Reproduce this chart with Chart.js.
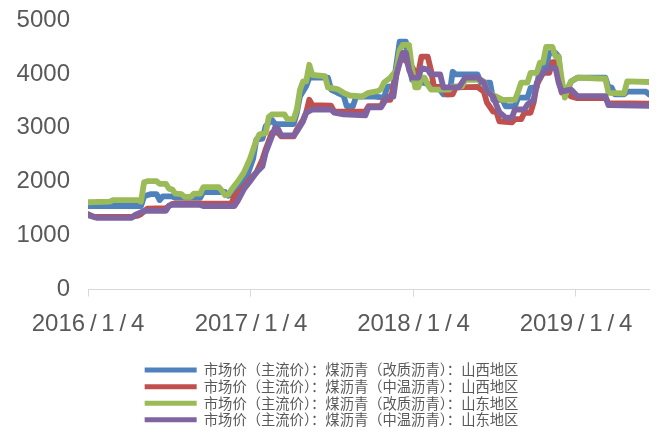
<!DOCTYPE html>
<html>
<head>
<meta charset="utf-8">
<script src="https://cdn.jsdelivr.net/npm/chart.js@4.4.1/dist/chart.umd.min.js"></script>
<style>
  html, body { margin: 0; padding: 0; background: #fff; }
  #wrap { width: 656px; height: 430px; }
</style>
</head>
<body>
<div id="wrap"><canvas id="chart" width="656" height="430"></canvas></div>
<script>
// x = weeks counted from 2016/1/4, y = price
const startDate = '2016-01-04';
const tickDates = ['2016-01-04', '2017-01-04', '2018-01-04', '2019-01-04'];
const tickLabels = ['2016/1/4', '2017/1/4', '2018/1/4', '2019/1/4'];
const lastWeek = 180;

const seriesNames = [
    '市场价（主流价）：煤沥青（改质沥青）：山西地区',
    '市场价（主流价）：煤沥青（中温沥青）：山西地区',
    '市场价（主流价）：煤沥青（改质沥青）：山东地区',
    '市场价（主流价）：煤沥青（中温沥青）：山东地区'
];
const seriesColors = ['#4F81BD', '#C0504D', '#9BBB59', '#8064A2'];

const shanxiModified = [[0,1550],[17,1550],[18,1730],[20,1770],[22,1770],[23,1660],[24,1730],[27,1730],[28,1700],[36,1700],[37,1810],[44,1810],[45,1740],[46,1760],[48,1900],[51,2100],[53,2430],[54,2780],[56,2800],[57,3030],[59,3150],[60,3070],[66,3070],[67,3280],[68,3580],[70,3770],[71,3930],[77,3930],[78,3710],[80,3650],[82,3600],[83,3400],[85,3400],[86,3580],[92,3580],[95,3560],[96,3760],[98,3780],[99,4200],[100,4600],[102,4600],[103,4200],[104,3890],[110,3800],[113,3700],[114,3620],[116,3620],[117,4040],[118,3990],[125,3990],[126,3840],[129,3840],[130,3520],[133,3520],[134,3400],[137,3400],[138,3560],[141,3560],[142,3740],[144,3750],[145,4130],[147,4130],[148,4390],[150,4390],[151,4320],[152,3710],[154,3710],[155,3860],[157,3930],[166,3930],[167,3750],[168,3750],[169,3620],[172,3620],[173,3670],[179,3670],[180,3620]];
const shanxiMedium = [[0,1400],[2,1350],[14,1350],[16,1370],[17,1400],[19,1500],[25,1510],[26,1550],[27,1590],[46,1600],[47,1730],[50,1900],[52,2050],[54,2170],[56,2420],[57,2600],[59,2910],[61,2910],[62,2840],[66,2840],[67,2970],[69,3150],[70,3280],[71,3520],[72,3420],[78,3410],[79,3300],[89,3300],[90,3400],[94,3400],[95,3520],[97,3520],[98,3760],[99,4000],[100,4260],[102,4260],[103,4130],[104,4130],[105,4020],[106,4020],[107,4320],[109,4320],[110,4080],[111,3760],[114,3760],[115,3620],[117,3620],[118,3750],[125,3760],[127,3670],[128,3470],[130,3300],[131,3300],[132,3120],[136,3100],[137,3160],[139,3160],[140,3280],[142,3280],[143,3470],[144,3800],[146,4020],[148,4020],[149,4220],[150,4220],[151,3950],[152,3650],[154,3650],[155,3580],[157,3550],[166,3550],[167,3460],[180,3450]];
const shandongModified = [[0,1620],[7,1630],[8,1660],[16,1660],[17,1630],[18,1990],[19,2010],[22,2010],[23,1960],[25,1960],[26,1870],[27,1860],[28,1780],[30,1770],[31,1720],[33,1720],[34,1780],[36,1780],[37,1900],[42,1900],[43,1830],[44,1750],[45,1760],[46,1850],[48,2000],[50,2170],[52,2430],[54,2770],[55,2880],[57,2900],[58,3200],[59,3250],[63,3250],[64,3160],[66,3160],[67,3340],[68,3700],[69,3860],[70,3860],[71,4170],[72,3980],[76,3960],[77,3750],[80,3720],[82,3650],[84,3600],[88,3580],[90,3650],[93,3680],[94,3720],[95,3840],[97,3930],[98,4000],[99,4080],[100,4440],[101,4540],[103,4540],[104,4080],[105,3750],[106,3750],[107,3930],[108,3930],[109,3800],[110,3710],[116,3710],[117,3770],[120,3770],[121,3890],[126,3890],[127,3860],[128,3680],[130,3600],[131,3580],[133,3520],[137,3520],[138,3670],[139,3840],[141,3840],[142,4020],[144,4020],[145,4210],[146,4210],[147,4500],[149,4500],[150,4320],[151,4320],[152,3900],[153,3560],[154,3750],[155,3860],[157,3930],[166,3910],[167,3650],[172,3640],[173,3860],[180,3850]];
const shandongMedium = [[0,1380],[3,1330],[14,1330],[15,1380],[18,1460],[25,1460],[26,1560],[27,1570],[36,1570],[37,1550],[47,1550],[48,1640],[50,1860],[52,2010],[54,2170],[56,2290],[57,2540],[59,2840],[60,3000],[61,2980],[62,2860],[66,2860],[67,2930],[69,3120],[70,3280],[72,3340],[78,3340],[79,3280],[82,3250],[89,3230],[90,3380],[94,3380],[95,3470],[96,3580],[98,3580],[99,4000],[100,4200],[101,4390],[102,4390],[103,4080],[104,3930],[106,3930],[107,4110],[109,4080],[110,3990],[113,3990],[114,3750],[119,3750],[120,3840],[121,3930],[125,3930],[127,3840],[128,3680],[130,3580],[131,3430],[132,3290],[134,3190],[136,3190],[137,3340],[140,3340],[141,3430],[143,3520],[144,3840],[146,4020],[148,4110],[150,4110],[151,3840],[152,3670],[154,3700],[155,3710],[157,3590],[166,3590],[167,3420],[180,3410]];

const allSeries = [shanxiModified, shanxiMedium, shandongModified, shandongMedium];

// date string -> weeks since start
const weeksFrom = d => (Date.parse(d) - Date.parse(startDate)) / 86400000 / 7;
const tickWeeks = tickDates.map(weeksFrom);

const textGray = '#595959';
const axisGray = '#d9d9d9';

new Chart(document.getElementById('chart'), {
    type: 'line',
    data: {
        datasets: allSeries.map((s, i) => ({
            label: seriesNames[i],
            data: s,
            borderColor: seriesColors[i],
            backgroundColor: seriesColors[i],
            borderWidth: 5.8,
            borderJoinStyle: 'round',
            borderCapStyle: 'round',
            pointRadius: 0,
            tension: 0,
            order: allSeries.length - i   // later series drawn on top, like the original
        }))
    },
    options: {
        responsive: false,
        animation: false,
        layout: { padding: { top: 20, right: 0, bottom: -7, left: 7 } },
        scales: {
            x: {
                type: 'linear',
                min: 0,
                max: lastWeek,
                afterBuildTicks: scale => { scale.ticks = tickWeeks.map(v => ({ value: v })); },
                afterFit: scale => { scale.height = 71; scale.paddingRight = 7; },
                ticks: {
                    autoSkip: false,
                    maxRotation: 0,
                    padding: 13,
                    color: textGray,
                    font: { family: '"Liberation Sans", Arial, sans-serif', size: 24 },
                    callback: (v, i) => tickLabels[i].split('/').join('\u2009/\u2009')
                },
                grid: { drawOnChartArea: false, color: axisGray, tickLength: 7 },
                border: { color: axisGray, width: 1 }
            },
            y: {
                min: 0,
                max: 5000,
                // fixed width; tick padding should not push the plot top down
                afterFit: scale => { scale.width = 81; scale.paddingTop = 0; scale.paddingBottom = 0; },
                ticks: {
                    stepSize: 1000,
                    padding: 18,
                    color: textGray,
                    font: { family: '"Liberation Sans", Arial, sans-serif', size: 24 },
                    callback: v => String(v)
                },
                grid: { display: false, drawTicks: false },
                border: { display: false }
            }
        },
        plugins: {
            tooltip: { enabled: false },
            legend: {
                position: 'bottom',
                labels: {
                    usePointStyle: true,
                    pointStyle: 'line',
                    pointStyleWidth: 52,
                    padding: 2.3,
                    color: textGray,
                    font: { family: '"Noto Sans CJK SC", sans-serif', size: 14.3 },
                    sort: (a, b) => a.datasetIndex - b.datasetIndex,
                    // legend swatches a bit thinner than the plotted lines
                    generateLabels: chart => Chart.defaults.plugins.legend.labels.generateLabels(chart)
                        .map(item => ({ ...item, lineWidth: 5 }))
                }
            }
        }
    }
});
</script>
</body>
</html>
